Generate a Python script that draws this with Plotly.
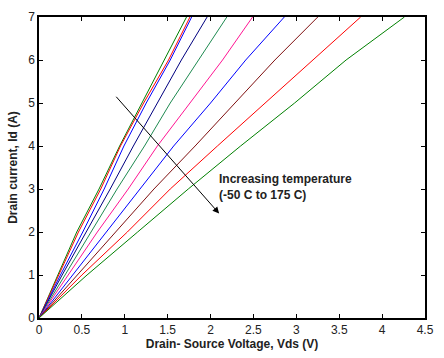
import plotly.graph_objects as go

# Drain current levels (A) at which the curves were read
id_levels = [0, 1, 2, 3, 4, 5, 6, 7]

# Drain-source voltage (V) of each curve at those current levels
vds_c1 = [0, 0.22, 0.44, 0.70, 0.94, 1.20, 1.46, 1.72]
vds_c2 = [0, 0.23, 0.46, 0.72, 0.95, 1.22, 1.51, 1.76]
vds_c3 = [0, 0.25, 0.51, 0.76, 0.99, 1.25, 1.53, 1.78]
vds_c4 = [0, 0.27, 0.55, 0.83, 1.10, 1.38, 1.66, 1.96]
vds_c5 = [0, 0.30, 0.60, 0.91, 1.23, 1.53, 1.86, 2.19]
vds_c6 = [0, 0.34, 0.68, 1.04, 1.38, 1.76, 2.14, 2.49]
vds_c7 = [0, 0.39, 0.79, 1.17, 1.57, 2.00, 2.41, 2.86]
vds_c8 = [0, 0.45, 0.90, 1.34, 1.82, 2.29, 2.75, 3.25]
vds_c9 = [0, 0.50, 1.03, 1.53, 2.08, 2.64, 3.19, 3.75]
vds_c10 = [0, 0.56, 1.15, 1.74, 2.35, 2.98, 3.58, 4.26]

curves = [vds_c1, vds_c2, vds_c3, vds_c4, vds_c5, vds_c6, vds_c7, vds_c8, vds_c9, vds_c10]
colors = ["#008000", "#ff0000", "#0000ff", "#00007f", "#1e8a50",
          "#ff1493", "#0000ff", "#7f1010", "#ff0000", "#008000"]

x_ticks = [0, 0.5, 1, 1.5, 2, 2.5, 3, 3.5, 4, 4.5]
x_labels = ["0", "0.5", "1", "1.5", "2", "2.5", "3", "3.5", "4", "4.5"]
y_ticks = [0, 1, 2, 3, 4, 5, 6, 7]

FONT = "Arial, 'Liberation Sans', sans-serif"

fig = go.Figure()
for xs, c in zip(curves, colors):
    fig.add_trace(go.Scatter(x=xs, y=id_levels, mode="lines",
                             line=dict(color=c, width=1), showlegend=False,
                             hoverinfo="skip"))

fig.add_annotation(x=2.10, y=2.43, ax=0.885, ay=5.18, xref="x", yref="y",
                   axref="x", ayref="y", showarrow=True, arrowhead=2,
                   arrowsize=1.3, arrowwidth=1, arrowcolor="black", text="")
fig.add_annotation(x=2.08, y=3.05, xref="x", yref="y", xanchor="left",
                   yanchor="middle", align="left", showarrow=False,
                   text="<b>Increasing temperature<br>(-50 C to 175 C)</b>",
                   font=dict(family=FONT, size=12, color="#222"))

axis_common = dict(showgrid=False, zeroline=False, showline=True, linecolor="black",
                   linewidth=1.5, mirror="ticks", ticks="inside", ticklen=4,
                   tickcolor="black", tickwidth=1,
                   tickfont=dict(family=FONT, size=12, color="#222"))

fig.update_xaxes(range=[0, 4.5], tickvals=x_ticks, ticktext=x_labels,
                 title=dict(text="<b>Drain- Source Voltage, Vds (V)</b>",
                            font=dict(family=FONT, size=12, color="#222"), standoff=2),
                 **axis_common)
fig.update_yaxes(range=[0, 7], tickvals=y_ticks, ticktext=[str(v) for v in y_ticks],
                 title=dict(text="<b>Drain current, Id (A)</b>",
                            font=dict(family=FONT, size=12, color="#222"), standoff=8),
                 **axis_common)
fig.update_layout(width=444, height=358, margin=dict(l=39, r=10, t=10, b=38),
                  paper_bgcolor="white", plot_bgcolor="white",
                  font=dict(family=FONT))
fig.for_each_xaxis(lambda a: a.update(tickprefix="<b>", ticksuffix="</b>"))
fig.for_each_yaxis(lambda a: a.update(tickprefix="<b>", ticksuffix="</b>"))

fig.write_html("out.html")
